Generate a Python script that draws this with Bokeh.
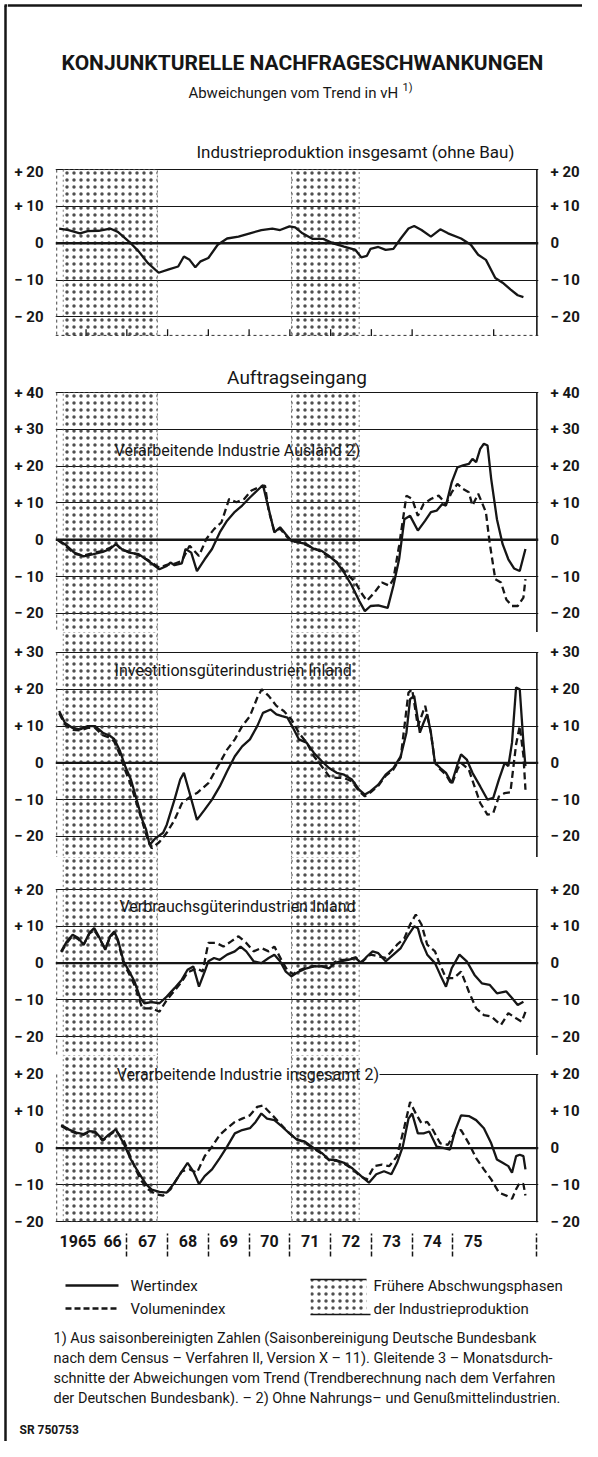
from bokeh.plotting import figure
from bokeh.layouts import column, row
from bokeh.models import Range1d, FixedTicker, LinearAxis, Span, Title
from bokeh.core.properties import value
from bokeh.embed import file_html
from bokeh.resources import INLINE

FN = "Roboto"
INK = "#161616"

# ---------------- data ----------------
YEAR_LABELS = ["1965", "66", "67", "68", "69", "70", "71", "72", "73", "74", "75"]
YEAR_POS = [1965.8, 1966.65, 1967.5, 1968.5, 1969.5, 1970.5, 1971.5, 1972.5, 1973.5, 1974.5, 1975.5]
YEAR_BOUNDS = [1967, 1968, 1969, 1970, 1971, 1972, 1973, 1974, 1975]
SHADE_START = [1965.44, 1971.04]
SHADE_END = [1967.75, 1972.70]

# Industrieproduktion insgesamt (ohne Bau)
P1_X = [1965.34, 1965.57, 1965.85, 1966.04, 1966.31, 1966.59, 1966.78, 1967.06, 1967.29, 1967.52,
        1967.78, 1968.03, 1968.26, 1968.40, 1968.54, 1968.68, 1968.81, 1969.00, 1969.23, 1969.46,
        1969.74, 1970.02, 1970.30, 1970.57, 1970.76, 1970.99, 1971.13, 1971.31, 1971.55, 1971.82,
        1972.06, 1972.33, 1972.61, 1972.75, 1972.89, 1972.98, 1973.17, 1973.35, 1973.54, 1973.72,
        1973.91, 1974.05, 1974.23, 1974.46, 1974.69, 1974.88, 1975.20, 1975.44, 1975.62, 1975.81,
        1976.04, 1976.22, 1976.41, 1976.59, 1976.73]
P1_WERT = [4.0, 3.6, 2.7, 3.3, 3.4, 4.0, 3.1, 0.4, -2.2, -5.4,
           -8.0, -7.1, -6.3, -3.6, -4.5, -6.5, -4.9, -4.0, -0.4, 1.3,
           1.8, 2.7, 3.6, 4.0, 3.6, 4.6, 4.3, 2.7, 1.2, 1.2,
           0.0, -0.9, -1.8, -3.8, -3.4, -1.5, -1.0, -1.8, -1.5, 1.3,
           4.0, 4.7, 3.6, 1.8, 3.8, 2.7, 1.3, -0.4, -3.1, -4.5,
           -9.4, -10.7, -12.5, -14.1, -14.6]

# Verarbeitende Industrie Ausland
P2_X = [1965.30, 1965.48, 1965.71, 1965.94, 1966.18, 1966.41, 1966.59, 1966.73, 1966.87, 1967.06,
        1967.29, 1967.52, 1967.80, 1967.98, 1968.07, 1968.17, 1968.35, 1968.44, 1968.58, 1968.72,
        1968.91, 1969.09, 1969.28, 1969.46, 1969.65, 1969.83, 1970.02, 1970.20, 1970.34, 1970.48,
        1970.62, 1970.76, 1970.90, 1971.04, 1971.22, 1971.41, 1971.59, 1971.78, 1971.96, 1972.15,
        1972.33, 1972.52, 1972.70, 1972.84, 1972.98, 1973.17, 1973.40, 1973.54, 1973.68, 1973.81,
        1973.95, 1974.14, 1974.32, 1974.46, 1974.60, 1974.74, 1974.83, 1974.97, 1975.11, 1975.25,
        1975.39, 1975.48, 1975.57, 1975.67, 1975.76, 1975.85, 1975.94, 1976.08, 1976.22, 1976.36,
        1976.50, 1976.64, 1976.78]
P2_WERT = [0.0, -1.2, -3.5, -4.5, -3.9, -3.3, -2.5, -1.2, -2.5, -3.5,
           -3.9, -5.7, -8.0, -7.1, -6.2, -6.9, -6.4, -2.5, -3.5, -8.5,
           -5.3, -2.5, 2.0, 5.2, 7.6, 9.3, 11.5, 13.4, 14.9, 8.4,
           2.0, 3.4, 1.5, -0.3, -0.7, -1.2, -2.5, -3.0, -4.4, -6.2,
           -8.9, -12.5, -16.6, -19.4, -18.0, -17.8, -18.5, -12.5, -5.3, 5.6,
           6.5, 2.5, 5.2, 7.5, 7.9, 9.7, 9.3, 15.6, 19.7, 20.2,
           20.6, 22.0, 21.1, 24.7, 26.1, 25.6, 16.5, 5.6, -1.2, -5.3,
           -7.8, -8.5, -2.5]
P2_VX = [1965.30, 1965.48, 1965.71, 1965.94, 1966.18, 1966.41, 1966.59, 1966.73, 1966.87, 1967.06,
         1967.29, 1967.52, 1967.80, 1967.98, 1968.17, 1968.35, 1968.54, 1968.77, 1968.95, 1969.14,
         1969.32, 1969.51, 1969.69, 1969.88, 1970.06, 1970.25, 1970.39, 1970.48, 1970.62, 1970.76,
         1970.90, 1971.04, 1971.22, 1971.41, 1971.59, 1971.78, 1971.96, 1972.15, 1972.33, 1972.61,
         1972.75, 1972.89, 1973.07, 1973.26, 1973.44, 1973.54, 1973.68, 1973.86, 1974.00, 1974.14,
         1974.28, 1974.46, 1974.65, 1974.83, 1974.97, 1975.11, 1975.25, 1975.39, 1975.48, 1975.62,
         1975.71, 1975.81, 1975.90, 1976.04, 1976.18, 1976.31, 1976.45, 1976.59, 1976.73, 1976.78]
P2_VOL = [0.0, -1.5, -3.8, -4.3, -3.6, -3.0, -2.2, -1.0, -2.8, -3.2,
          -4.2, -5.5, -7.6, -6.8, -6.5, -5.7, -1.6, -4.4, 0.2, 2.9,
          4.7, 11.1, 10.2, 11.1, 13.4, 14.3, 14.7, 8.0, 2.3, 3.0,
          1.2, -0.5, -0.5, -1.5, -2.3, -3.3, -4.6, -6.0, -8.5, -11.6,
          -14.4, -16.6, -14.4, -11.6, -12.5, -10.7, -1.6, 12.0, 11.1, 6.5,
          9.7, 11.1, 12.0, 9.7, 12.9, 15.2, 13.8, 12.9, 9.3, 12.5,
          10.2, 7.5, -0.7, -10.7, -11.6, -16.2, -18.0, -18.0, -15.7, -10.7]

# Investitionsgüterindustrien Inland
P3_X = [1965.34, 1965.48, 1965.67, 1965.85, 1966.04, 1966.22, 1966.41, 1966.59, 1966.69, 1966.82,
        1966.96, 1967.10, 1967.24, 1967.38, 1967.47, 1967.56, 1967.70, 1967.89, 1967.98, 1968.17,
        1968.31, 1968.40, 1968.54, 1968.72, 1968.91, 1969.09, 1969.28, 1969.46, 1969.65, 1969.83,
        1970.02, 1970.20, 1970.34, 1970.53, 1970.67, 1970.81, 1970.94, 1971.08, 1971.22, 1971.41,
        1971.59, 1971.78, 1971.96, 1972.15, 1972.33, 1972.52, 1972.70, 1972.84, 1972.98, 1973.17,
        1973.35, 1973.54, 1973.72, 1973.86, 1973.95, 1974.05, 1974.14, 1974.19, 1974.28, 1974.37,
        1974.46, 1974.56, 1974.69, 1974.83, 1974.97, 1975.11, 1975.20, 1975.34, 1975.48, 1975.67,
        1975.85, 1975.99, 1976.13, 1976.27, 1976.36, 1976.45, 1976.55, 1976.64, 1976.73, 1976.78]
P3_WERT = [14.1, 10.9, 9.5, 9.1, 10.0, 10.0, 8.2, 7.3, 6.5, 3.6,
           -0.9, -4.5, -10.0, -15.5, -18.0, -22.3, -20.5, -19.0, -16.8, -10.0,
           -4.5, -2.7, -8.2, -15.5, -12.7, -10.0, -6.4, -2.3, 1.8, 4.5,
           6.4, 10.0, 13.6, 14.5, 13.2, 12.7, 12.3, 9.5, 6.4, 5.5,
           2.7, 0.5, -1.4, -2.7, -3.2, -4.5, -7.3, -8.6, -7.7, -5.9,
           -3.2, -1.4, 1.8, 8.2, 17.3, 18.2, 11.8, 8.2, 10.9, 13.2,
           8.2, 0.0, -1.4, -2.7, -5.5, -0.5, 2.3, 0.9, -2.7, -6.4,
           -10.0, -9.5, -4.5, 0.0, -0.9, 5.5, 20.5, 20.0, 5.5, -0.9]
P3_VX = [1965.34, 1965.48, 1965.67, 1965.85, 1966.04, 1966.22, 1966.41, 1966.59, 1966.69, 1966.82,
         1966.96, 1967.10, 1967.24, 1967.38, 1967.52, 1967.61, 1967.80, 1967.98, 1968.17, 1968.35,
         1968.58, 1968.72, 1969.00, 1969.28, 1969.46, 1969.65, 1969.83, 1970.02, 1970.20, 1970.31,
         1970.48, 1970.67, 1970.85, 1971.04, 1971.22, 1971.41, 1971.59, 1971.78, 1971.96, 1972.15,
         1972.33, 1972.52, 1972.70, 1972.84, 1972.98, 1973.17, 1973.35, 1973.54, 1973.72, 1973.91,
         1974.00, 1974.14, 1974.32, 1974.46, 1974.56, 1974.69, 1974.83, 1974.97, 1975.11, 1975.20,
         1975.39, 1975.53, 1975.67, 1975.85, 1975.99, 1976.13, 1976.27, 1976.41, 1976.55, 1976.64,
         1976.73, 1976.78]
P3_VOL = [13.5, 10.5, 9.0, 8.8, 9.5, 9.5, 7.5, 6.8, 5.8, 2.5,
          -2.0, -6.0, -11.0, -16.0, -21.0, -23.2, -21.5, -19.0, -15.5, -11.0,
          -9.0, -8.2, -5.5, 0.0, 3.6, 6.4, 10.0, 12.7, 17.7, 20.0,
          18.2, 15.5, 14.1, 11.8, 8.2, 5.5, 1.8, -0.9, -3.6, -4.1,
          -4.1, -5.0, -7.7, -9.1, -8.0, -6.2, -3.5, -1.8, 1.5, 19.1,
          20.0, 10.0, 15.5, 8.2, 0.0, -1.8, -3.2, -5.9, -1.8, 0.0,
          -1.8, -6.4, -10.9, -14.1, -13.6, -9.1, -8.2, -8.0, 5.0, 10.0,
          2.0, -7.3]

# Verbrauchsgüterindustrien Inland
P4_X = [1965.39, 1965.53, 1965.67, 1965.81, 1965.94, 1966.08, 1966.20, 1966.31, 1966.47, 1966.59,
        1966.69, 1966.78, 1966.92, 1967.06, 1967.19, 1967.33, 1967.43, 1967.61, 1967.80, 1967.98,
        1968.17, 1968.35, 1968.49, 1968.63, 1968.77, 1968.91, 1969.00, 1969.14, 1969.28, 1969.46,
        1969.65, 1969.79, 1969.93, 1970.11, 1970.30, 1970.48, 1970.62, 1970.76, 1970.90, 1971.04,
        1971.22, 1971.41, 1971.59, 1971.78, 1971.96, 1972.10, 1972.24, 1972.43, 1972.61, 1972.75,
        1972.89, 1973.03, 1973.17, 1973.35, 1973.54, 1973.72, 1973.91, 1974.05, 1974.14, 1974.23,
        1974.37, 1974.56, 1974.69, 1974.83, 1974.97, 1975.16, 1975.34, 1975.53, 1975.71, 1975.90,
        1976.08, 1976.31, 1976.45, 1976.59, 1976.73]
P4_WERT = [3.2, 5.9, 7.7, 6.8, 5.0, 8.2, 9.5, 7.3, 3.6, 7.3,
           8.6, 6.4, 0.5, -2.3, -5.0, -9.5, -10.9, -10.6, -10.9, -9.1,
           -6.8, -4.5, -1.8, -0.9, -6.4, -2.3, 0.5, 1.4, 0.9, 2.3,
           3.2, 4.5, 3.2, 0.5, 0.0, 1.4, 2.3, 0.5, -2.3, -3.6,
           -2.3, -1.4, -0.9, -0.9, -1.4, 0.0, 0.5, 0.9, 1.4, 0.0,
           1.8, 3.2, 2.7, 0.5, 2.3, 4.1, 7.7, 10.0, 9.5, 5.9,
           2.3, 0.0, -3.2, -6.4, -1.4, 2.3, 0.5, -3.2, -5.5, -5.9,
           -8.2, -7.7, -9.5, -11.4, -10.5]
P4_VX = [1965.39, 1965.53, 1965.67, 1965.81, 1965.94, 1966.08, 1966.20, 1966.31, 1966.47, 1966.59,
         1966.69, 1966.78, 1966.92, 1967.06, 1967.19, 1967.38, 1967.61, 1967.80, 1967.98, 1968.17,
         1968.35, 1968.49, 1968.72, 1968.86, 1969.00, 1969.19, 1969.37, 1969.56, 1969.74, 1969.93,
         1970.11, 1970.30, 1970.48, 1970.62, 1970.81, 1970.94, 1971.08, 1971.22, 1971.41, 1971.59,
         1971.78, 1971.96, 1972.10, 1972.24, 1972.43, 1972.61, 1972.75, 1972.98, 1973.35, 1973.63,
         1973.81, 1973.95, 1974.09, 1974.23, 1974.37, 1974.56, 1974.65, 1974.83, 1975.02, 1975.20,
         1975.39, 1975.57, 1975.76, 1975.94, 1976.18, 1976.36, 1976.55, 1976.69, 1976.78]
P4_VOL = [3.0, 5.5, 7.5, 6.5, 5.0, 8.0, 9.0, 7.0, 4.0, 7.0,
          8.3, 6.0, 0.0, -3.0, -6.0, -12.3, -12.3, -13.2, -10.0, -7.5,
          -5.0, -2.5, -1.4, -2.3, 5.5, 5.5, 4.5, 5.9, 7.3, 5.5,
          3.2, 4.1, 3.2, 4.5, 0.5, -2.0, -3.0, -2.0, -1.2, -0.8,
          -0.8, -1.0, 0.3, 0.8, 1.0, 1.6, 0.3, 2.3, 1.4, 5.0,
          6.8, 10.5, 13.2, 10.5, 5.0, 3.2, 0.5, -4.1, -4.1, -2.3,
          -7.7, -12.3, -14.1, -14.5, -16.8, -13.6, -15.0, -15.9, -13.2]

# Verarbeitende Industrie insgesamt
P5_X = [1965.39, 1965.57, 1965.76, 1965.94, 1966.08, 1966.22, 1966.41, 1966.55, 1966.73, 1966.92,
        1967.10, 1967.29, 1967.47, 1967.61, 1967.80, 1967.98, 1968.17, 1968.35, 1968.49, 1968.63,
        1968.77, 1968.91, 1969.09, 1969.28, 1969.46, 1969.65, 1969.83, 1970.02, 1970.16, 1970.30,
        1970.44, 1970.62, 1970.81, 1970.99, 1971.18, 1971.36, 1971.59, 1971.78, 1971.96, 1972.15,
        1972.33, 1972.52, 1972.75, 1972.94, 1973.12, 1973.31, 1973.49, 1973.63, 1973.77, 1973.91,
        1974.00, 1974.14, 1974.28, 1974.42, 1974.60, 1974.79, 1974.93, 1975.06, 1975.20, 1975.39,
        1975.57, 1975.76, 1975.94, 1976.08, 1976.22, 1976.36, 1976.45, 1976.55, 1976.64, 1976.73,
        1976.78]
P5_WERT = [6.3, 5.1, 4.2, 3.8, 4.6, 4.5, 2.2, 3.6, 5.1, 1.3,
           -3.1, -6.7, -9.8, -11.3, -11.9, -12.1, -9.4, -6.3, -4.0, -6.3,
           -9.8, -7.6, -5.8, -2.7, 0.4, 4.0, 4.9, 5.4, 7.1, 9.4,
           8.0, 7.6, 5.8, 4.0, 2.2, 1.8, 0.0, -1.3, -3.1, -3.3,
           -4.0, -5.4, -7.6, -9.4, -7.1, -6.3, -7.1, -4.0, 0.4, 8.0,
           9.4, 4.0, 4.0, 4.5, 0.4, 0.0, -0.4, 4.9, 8.9, 8.7,
           7.6, 5.4, 1.3, -3.1, -4.0, -4.9, -6.7, -2.2, -1.8, -2.2,
           -5.8]
P5_VX = [1965.39, 1965.57, 1965.76, 1965.94, 1966.08, 1966.22, 1966.41, 1966.55, 1966.73, 1966.92,
         1967.15, 1967.33, 1967.52, 1967.70, 1967.89, 1968.07, 1968.35, 1968.54, 1968.72, 1968.91,
         1969.09, 1969.28, 1969.46, 1969.65, 1969.83, 1970.02, 1970.20, 1970.34, 1970.53, 1970.76,
         1970.94, 1971.13, 1971.36, 1971.59, 1971.78, 1971.96, 1972.15, 1972.33, 1972.52, 1972.75,
         1972.89, 1973.07, 1973.26, 1973.44, 1973.63, 1973.81, 1973.95, 1974.09, 1974.23, 1974.37,
         1974.51, 1974.69, 1974.88, 1975.06, 1975.20, 1975.39, 1975.57, 1975.76, 1975.94, 1976.13,
         1976.31, 1976.45, 1976.55, 1976.64, 1976.73, 1976.78]
P5_VOL = [6.0, 4.8, 4.0, 3.6, 4.4, 4.2, 2.0, 3.3, 4.8, 2.2,
          -4.0, -8.5, -11.2, -12.5, -12.9, -11.2, -6.3, -5.8, -6.7, -2.2,
          0.4, 3.6, 5.4, 7.1, 8.0, 8.9, 11.2, 11.6, 9.4, 6.7,
          4.5, 2.7, 1.5, -0.2, -1.5, -3.3, -3.5, -4.2, -5.6, -7.8,
          -8.5, -4.9, -4.5, -4.9, -2.2, 5.8, 12.5, 9.4, 6.7, 7.1,
          4.9, 1.3, 0.9, 4.5, 4.9, 1.3, -2.7, -5.8, -8.5, -12.1,
          -12.9, -13.8, -11.2, -9.4, -9.8, -12.9]

FOOTNOTES = [
    "1) Aus saisonbereinigten Zahlen (Saisonbereinigung Deutsche Bundesbank",
    "nach dem Census \u2013 Verfahren II, Version X \u2013 11). Gleitende 3 \u2013 Monatsdurch-",
    "schnitte der Abweichungen vom Trend (Trendberechnung nach dem Verfahren",
    "der Deutschen Bundesbank). \u2013 2) Ohne Nahrungs\u2013 und Genu\u00dfmittelindustrien.",
]

# ---------------- layout constants ----------------
X0, X1 = 1965.25, 1977.10
X_RIGHT = 1977.06
X_LEFT = 1965.28
LEFT_B, RIGHT_B, FRAME_W = 48, 37, 490
COL_W = LEFT_B + FRAME_W + RIGHT_B
PAGE_L, PAGE_R = 15, 590
HATCH = dict(hatch_pattern="dot", hatch_color="#303030", hatch_scale=7, hatch_weight=0.85, hatch_alpha=0.85)


def fmt(v):
    if v > 0:
        return "+ %d" % v
    if v < 0:
        return "\u2212 %d" % (-v)
    return "0"


def style_yaxis(ax, ticks):
    ax.ticker = FixedTicker(ticks=ticks)
    ov = {}
    for t in ticks:
        ov[t] = fmt(t)
        ov[str(t)] = fmt(t)
    ax.major_label_overrides = ov
    ax.axis_line_color = None
    ax.major_tick_line_color = None
    ax.minor_tick_line_color = None
    ax.major_label_standoff = 6
    ax.major_label_text_font = FN
    ax.major_label_text_font_style = "bold"
    ax.major_label_text_font_size = "15px"
    ax.major_label_text_color = INK


def make_panel(height, y0, y1, ticks, top_tick, top=0, bottom=0, title=None,
               standoff=4, grid_ticks=None, shade_top=None, shade_bottom=None):
    p = figure(width=COL_W, height=height, x_range=Range1d(X0, X1), y_range=Range1d(y0, y1),
               output_backend="svg", toolbar_location=None, x_axis_location=None,
               min_border_left=LEFT_B, min_border_right=RIGHT_B,
               min_border_top=top, min_border_bottom=bottom, title=None, frame_align=False)
    p.outline_line_color = None
    p.xgrid.visible = False
    p.ygrid.ticker = FixedTicker(ticks=[t for t in (grid_ticks if grid_ticks is not None else ticks) if t != 0])
    p.ygrid.grid_line_color = INK
    p.ygrid.grid_line_width = 1.1
    style_yaxis(p.yaxis[0], ticks)
    ra = LinearAxis()
    style_yaxis(ra, ticks)
    p.add_layout(ra, "right")
    if title:
        p.add_layout(Title(text=title, align="center", text_font=FN,
                           text_font_size="19px", text_font_style="normal", text_color=INK,
                           standoff=standoff), "above")
    sb = y0 if shade_bottom is None else shade_bottom
    st = y1 if shade_top is None else shade_top
    p.quad(left=SHADE_START, right=SHADE_END, bottom=[sb] * len(SHADE_START), top=[st] * len(SHADE_START),
           fill_color=None, line_color="#555555", line_width=0.8, line_dash="2 3", **HATCH)
    p.add_layout(Span(location=0, dimension="width", line_color=INK, line_width=2.4))
    p.segment(x0=[X_RIGHT], y0=[top_tick], x1=[X_RIGHT], y1=[y0], line_color=INK, line_width=1.6)
    p.segment(x0=[X_LEFT], y0=[top_tick], x1=[X_LEFT], y1=[y0], line_color="#444444", line_width=1.0,
              line_dash="3 3")
    return p


def draw(p, x, y, dashed=False):
    if dashed:
        p.line(x, y, line_color=INK, line_width=2.3, line_dash="7 4")
    else:
        p.line(x, y, line_color=INK, line_width=2.3)


def label(p, x, y, txt, size="16px"):
    p.text(x=[x], y=[y], text=[txt], text_font=value(FN), text_font_size=value(size),
           text_align="left", text_baseline="middle", text_color=INK)


def pixel_fig(height, top, bottom, left=PAGE_L, right=PAGE_R, width=COL_W):
    p = figure(width=width, height=height, x_range=Range1d(left, right), y_range=Range1d(bottom, top),
               output_backend="svg", toolbar_location=None, x_axis_location=None, y_axis_location=None,
               min_border=0, title=None, frame_align=False)
    p.outline_line_color = None
    p.grid.visible = False
    return p


def ptext(p, x, y, txt, size, bold=False, align="left"):
    p.text(x=[x], y=[y], text=[txt], text_font=value(FN), text_font_size=value(size),
           text_font_style="bold" if bold else "normal", text_align=align,
           text_baseline="middle", text_color=INK)


# ---------------- header ----------------
hdr = pixel_fig(162, 8, 170)
hdr.segment(x0=[PAGE_L], y0=[13], x1=[PAGE_R], y1=[13], line_color=INK, line_width=2.5)
ptext(hdr, 310, 70, "KONJUNKTURELLE NACHFRAGESCHWANKUNGEN", "21px", bold=True, align="center")
ptext(hdr, 406, 100, "Abweichungen vom Trend in vH", "15px", align="right")
ptext(hdr, 410, 95, "1)", "11px")
ptext(hdr, 204, 159, "Industrieproduktion insgesamt (ohne Bau)", "17px")

# ---------------- panels ----------------
p1 = make_panel(174, -25.3, 20.3, [-20, -10, 0, 10, 20], 20, top=6, shade_top=20)
draw(p1, P1_X, P1_WERT)
p1.add_layout(Span(location=-25.0, dimension="width", line_color="#333333", line_width=1.0, line_dash="3 3"))
p1.segment(x0=[b - 1 for b in YEAR_BOUNDS] + [1976], y0=[-25.3] * 10,
           x1=[b - 1 for b in YEAR_BOUNDS] + [1976], y1=[-23.3] * 10, line_color=INK, line_width=1.3)

p2 = make_panel(296, -25.2, 40.3, [-20, -10, 0, 10, 20, 30, 40], 40, top=55,
                title="Auftragseingang", standoff=5, shade_top=40)
draw(p2, P2_X, P2_WERT)
draw(p2, P2_VX, P2_VOL, dashed=True)
label(p2, 1966.70, 24.2, "Verarbeitende Industrie Ausland 2)")

p3 = make_panel(225, -25.71, 35.43, [-20, -10, 0, 10, 20, 30], 30)
draw(p3, P3_X, P3_WERT)
draw(p3, P3_VX, P3_VOL, dashed=True)
label(p3, 1966.70, 25.0, "Investitionsg\u00fcterindustrien Inland")

p4 = make_panel(198, -25.10, 28.70, [-20, -10, 0, 10, 20], 20)
draw(p4, P4_X, P4_WERT)
draw(p4, P4_VX, P4_VOL, dashed=True)
label(p4, 1966.82, 15.5, "Verbrauchsg\u00fcterindustrien Inland")

p5 = make_panel(207, -20.22, 25.16, [-20, -10, 0, 10, 20], 20, bottom=40,
                grid_ticks=[-20, -10], shade_bottom=-20)
p5.segment(x0=[1973.2], y0=[20], x1=[X1], y1=[20], line_color=INK, line_width=1.1)
draw(p5, P5_X, P5_WERT)
draw(p5, P5_VX, P5_VOL, dashed=True)
label(p5, 1966.75, 20.0, "Verarbeitende Industrie insgesamt 2)")

xa = LinearAxis(ticker=FixedTicker(ticks=YEAR_POS, minor_ticks=YEAR_BOUNDS + [X_RIGHT]))
xov = {}
for pos, lab in zip(YEAR_POS, YEAR_LABELS):
    xov[pos] = lab
    xov[str(pos)] = lab
xa.major_label_overrides = xov
xa.axis_line_color = None
xa.major_tick_line_color = None
xa.minor_tick_line_color = INK
xa.minor_tick_in = -11
xa.minor_tick_out = 34
xa.minor_tick_line_width = 1.5
xa.minor_tick_line_dash = "5 2"
xa.major_label_standoff = -22
xa.major_label_text_font = FN
xa.major_label_text_font_style = "bold"
xa.major_label_text_font_size = "16px"
xa.major_label_text_color = INK
p5.add_layout(xa, "below")

# ---------------- footer ----------------
ftr = pixel_fig(179, 1270, 1449)
ftr.segment(x0=[73], y0=[1293], x1=[126], y1=[1293], line_color=INK, line_width=2.3)
ftr.segment(x0=[73], y0=[1316], x1=[126], y1=[1316], line_color=INK, line_width=2.3, line_dash="6 3")
ptext(ftr, 138, 1293, "Wertindex", "15px")
ptext(ftr, 138, 1316, "Volumenindex", "15px")
ftr.quad(left=[318], right=[374], top=[1287], bottom=[1322], fill_color=None, line_color=None, **HATCH)
ftr.segment(x0=[318, 318], y0=[1287, 1322], x1=[374, 378], y1=[1287, 1322], line_color=INK, line_width=1.3)
ptext(ftr, 381, 1293, "Fr\u00fchere Abschwungsphasen", "15px")
ptext(ftr, 381, 1316, "der Industrieproduktion", "15px")
ftr.text(x=[61] * 4, y=[1346, 1366, 1386, 1406], text=FOOTNOTES, text_font=value(FN),
         text_font_size=value("14.5px"), text_align="left", text_baseline="middle", text_color=INK)
ptext(ftr, 27, 1437, "SR 750753", "12px", bold=True)

# ---------------- left frame strip ----------------
strip = pixel_fig(1441, 8, 1449, left=8, right=15, width=7)
strip.segment(x0=[13], y0=[13], x1=[13], y1=[1449], line_color=INK, line_width=2.5)
strip.segment(x0=[12], y0=[13], x1=[15], y1=[13], line_color=INK, line_width=2.5)

layout = row(strip, column(hdr, p1, p2, p3, p4, p5, ftr))
open("out.html", "w").write(file_html(layout, INLINE))
